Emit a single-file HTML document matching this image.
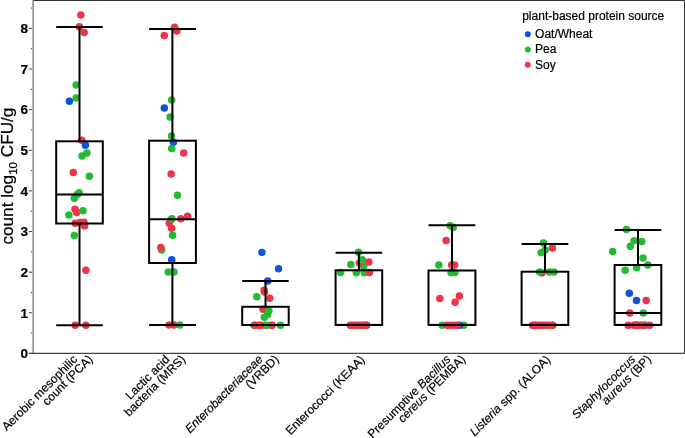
<!DOCTYPE html><html><head><meta charset="utf-8"><style>html,body{margin:0;padding:0;background:#fff;}svg{display:block;will-change:transform;}text{font-family:"Liberation Sans",sans-serif;}</style></head><body>
<svg width="685" height="438" viewBox="0 0 685 438">
<path d="M33 0.5H684.5V353.4" fill="none" stroke="#333" stroke-width="1"/>
<rect x="32" y="0" width="1" height="353.9" fill="#b4b4b4"/><rect x="33" y="0" width="1" height="353.9" fill="#969696"/>
<line x1="28.8" y1="353.4" x2="685" y2="353.4" stroke="#444" stroke-width="1.1"/>
<line x1="28.8" y1="353.40" x2="32" y2="353.40" stroke="#444" stroke-width="1"/>
<line x1="30.8" y1="333.09" x2="32" y2="333.09" stroke="#444" stroke-width="1"/>
<line x1="28.8" y1="312.77" x2="32" y2="312.77" stroke="#444" stroke-width="1"/>
<line x1="30.8" y1="292.46" x2="32" y2="292.46" stroke="#444" stroke-width="1"/>
<line x1="28.8" y1="272.15" x2="32" y2="272.15" stroke="#444" stroke-width="1"/>
<line x1="30.8" y1="251.84" x2="32" y2="251.84" stroke="#444" stroke-width="1"/>
<line x1="28.8" y1="231.52" x2="32" y2="231.52" stroke="#444" stroke-width="1"/>
<line x1="30.8" y1="211.21" x2="32" y2="211.21" stroke="#444" stroke-width="1"/>
<line x1="28.8" y1="190.90" x2="32" y2="190.90" stroke="#444" stroke-width="1"/>
<line x1="30.8" y1="170.59" x2="32" y2="170.59" stroke="#444" stroke-width="1"/>
<line x1="28.8" y1="150.27" x2="32" y2="150.27" stroke="#444" stroke-width="1"/>
<line x1="30.8" y1="129.96" x2="32" y2="129.96" stroke="#444" stroke-width="1"/>
<line x1="28.8" y1="109.65" x2="32" y2="109.65" stroke="#444" stroke-width="1"/>
<line x1="30.8" y1="89.34" x2="32" y2="89.34" stroke="#444" stroke-width="1"/>
<line x1="28.8" y1="69.02" x2="32" y2="69.02" stroke="#444" stroke-width="1"/>
<line x1="30.8" y1="48.71" x2="32" y2="48.71" stroke="#444" stroke-width="1"/>
<line x1="28.8" y1="28.40" x2="32" y2="28.40" stroke="#444" stroke-width="1"/>
<line x1="30.8" y1="8.09" x2="32" y2="8.09" stroke="#444" stroke-width="1"/>
<text x="28" y="358.20" font-size="13.6" font-weight="bold" text-anchor="end" fill="#000" stroke="#000" stroke-width="0.2">0</text>
<text x="28" y="317.57" font-size="13.6" font-weight="bold" text-anchor="end" fill="#000" stroke="#000" stroke-width="0.2">1</text>
<text x="28" y="276.95" font-size="13.6" font-weight="bold" text-anchor="end" fill="#000" stroke="#000" stroke-width="0.2">2</text>
<text x="28" y="236.32" font-size="13.6" font-weight="bold" text-anchor="end" fill="#000" stroke="#000" stroke-width="0.2">3</text>
<text x="28" y="195.70" font-size="13.6" font-weight="bold" text-anchor="end" fill="#000" stroke="#000" stroke-width="0.2">4</text>
<text x="28" y="155.07" font-size="13.6" font-weight="bold" text-anchor="end" fill="#000" stroke="#000" stroke-width="0.2">5</text>
<text x="28" y="114.45" font-size="13.6" font-weight="bold" text-anchor="end" fill="#000" stroke="#000" stroke-width="0.2">6</text>
<text x="28" y="73.82" font-size="13.6" font-weight="bold" text-anchor="end" fill="#000" stroke="#000" stroke-width="0.2">7</text>
<text x="28" y="33.20" font-size="13.6" font-weight="bold" text-anchor="end" fill="#000" stroke="#000" stroke-width="0.2">8</text>
<text transform="translate(12.9,244.6) rotate(-90)" font-size="17.2" fill="#000" stroke="#000" stroke-width="0.25">count log<tspan font-size="11.5" dy="3.8">10</tspan><tspan dy="-3.8"> CFU/g</tspan></text>
<circle cx="80.8" cy="15.0" r="3.75" fill="#ee3448"/>
<circle cx="79.4" cy="26.7" r="3.75" fill="#ee3448"/>
<circle cx="84.2" cy="32.6" r="3.75" fill="#ee3448"/>
<circle cx="76.2" cy="84.9" r="3.75" fill="#22bb33"/>
<circle cx="76.2" cy="97.9" r="3.75" fill="#22bb33"/>
<circle cx="69.4" cy="101.2" r="3.75" fill="#0a55d8"/>
<circle cx="81.7" cy="140.2" r="3.75" fill="#ee3448"/>
<circle cx="85.4" cy="145.2" r="3.75" fill="#0a55d8"/>
<circle cx="86.9" cy="153.1" r="3.75" fill="#22bb33"/>
<circle cx="82" cy="156" r="3.75" fill="#22bb33"/>
<circle cx="73.3" cy="172.5" r="3.75" fill="#ee3448"/>
<circle cx="89.4" cy="176.2" r="3.75" fill="#22bb33"/>
<circle cx="79.1" cy="192.7" r="3.75" fill="#22bb33"/>
<circle cx="77.2" cy="194.5" r="3.75" fill="#22bb33"/>
<circle cx="74.3" cy="198.2" r="3.75" fill="#22bb33"/>
<circle cx="75" cy="209.2" r="3.75" fill="#ee3448"/>
<circle cx="76.7" cy="212.6" r="3.75" fill="#ee3448"/>
<circle cx="83" cy="210.8" r="3.75" fill="#22bb33"/>
<circle cx="68.9" cy="215" r="3.75" fill="#22bb33"/>
<circle cx="75.2" cy="223.2" r="3.75" fill="#ee3448"/>
<circle cx="80.1" cy="222.4" r="3.75" fill="#ee3448"/>
<circle cx="84" cy="222.2" r="3.75" fill="#ee3448"/>
<circle cx="84.6" cy="226" r="3.75" fill="#ee3448"/>
<circle cx="74.3" cy="235.4" r="3.75" fill="#22bb33"/>
<circle cx="85.9" cy="270.3" r="3.75" fill="#ee3448"/>
<circle cx="75.2" cy="325.2" r="3.75" fill="#ee3448"/>
<circle cx="85.9" cy="325.2" r="3.75" fill="#ee3448"/>
<circle cx="174.6" cy="27.2" r="3.75" fill="#ee3448"/>
<circle cx="176.8" cy="31.0" r="3.75" fill="#ee3448"/>
<circle cx="164.3" cy="35.5" r="3.75" fill="#ee3448"/>
<circle cx="171.7" cy="100.1" r="3.75" fill="#22bb33"/>
<circle cx="164.3" cy="107.9" r="3.75" fill="#0a55d8"/>
<circle cx="170.1" cy="117" r="3.75" fill="#22bb33"/>
<circle cx="171.5" cy="136.1" r="3.75" fill="#22bb33"/>
<circle cx="173.4" cy="142.3" r="3.75" fill="#0a55d8"/>
<circle cx="171.7" cy="148.5" r="3.75" fill="#22bb33"/>
<circle cx="183.7" cy="153" r="3.75" fill="#ee3448"/>
<circle cx="171.1" cy="174" r="3.75" fill="#ee3448"/>
<circle cx="177.5" cy="195.3" r="3.75" fill="#22bb33"/>
<circle cx="187.6" cy="216.3" r="3.75" fill="#ee3448"/>
<circle cx="180.8" cy="218.8" r="3.75" fill="#ee3448"/>
<circle cx="171.1" cy="219.5" r="3.75" fill="#ee3448"/>
<circle cx="169.3" cy="223.3" r="3.75" fill="#ee3448"/>
<circle cx="172" cy="218.8" r="3.75" fill="#22bb33"/>
<circle cx="171.6" cy="228.3" r="3.75" fill="#ee3448"/>
<circle cx="172.6" cy="235.3" r="3.75" fill="#22bb33"/>
<circle cx="161.7" cy="250" r="3.75" fill="#22bb33"/>
<circle cx="160.8" cy="247.5" r="3.75" fill="#ee3448"/>
<circle cx="171.7" cy="259.7" r="3.75" fill="#0a55d8"/>
<circle cx="168.2" cy="272.1" r="3.75" fill="#22bb33"/>
<circle cx="174" cy="272.1" r="3.75" fill="#22bb33"/>
<circle cx="169.1" cy="325" r="3.75" fill="#ee3448"/>
<circle cx="174" cy="325" r="3.75" fill="#ee3448"/>
<circle cx="179.8" cy="325" r="3.75" fill="#22bb33"/>
<circle cx="261.9" cy="252.4" r="3.75" fill="#0a55d8"/>
<circle cx="278.5" cy="268.8" r="3.75" fill="#0a55d8"/>
<circle cx="267.7" cy="281.1" r="3.75" fill="#0a55d8"/>
<circle cx="264.2" cy="290.3" r="3.75" fill="#ee3448"/>
<circle cx="264.5" cy="292.0" r="3.75" fill="#ee3448"/>
<circle cx="256.8" cy="296.7" r="3.75" fill="#22bb33"/>
<circle cx="269.7" cy="298.2" r="3.75" fill="#ee3448"/>
<circle cx="263" cy="309.3" r="3.75" fill="#ee3448"/>
<circle cx="268.9" cy="310.8" r="3.75" fill="#22bb33"/>
<circle cx="267.6" cy="314.5" r="3.75" fill="#22bb33"/>
<circle cx="264.3" cy="317.2" r="3.75" fill="#22bb33"/>
<circle cx="254.0" cy="325.2" r="3.75" fill="#22bb33"/>
<circle cx="280.4" cy="325.2" r="3.75" fill="#22bb33"/>
<circle cx="255.2" cy="325.2" r="3.75" fill="#ee3448"/>
<circle cx="258.5" cy="325.2" r="3.75" fill="#ee3448"/>
<circle cx="261" cy="325.2" r="3.75" fill="#ee3448"/>
<circle cx="265" cy="325.2" r="3.75" fill="#ee3448"/>
<circle cx="271.4" cy="325.2" r="3.75" fill="#ee3448"/>
<circle cx="272.3" cy="325.2" r="3.75" fill="#ee3448"/>
<circle cx="266.8" cy="325.2" r="3.75" fill="#22bb33"/>
<circle cx="358.5" cy="252.3" r="3.75" fill="#22bb33"/>
<circle cx="363.7" cy="266.4" r="3.75" fill="#22bb33"/>
<circle cx="359.3" cy="263.1" r="3.75" fill="#ee3448"/>
<circle cx="362.3" cy="259.7" r="3.75" fill="#22bb33"/>
<circle cx="368.9" cy="261.9" r="3.75" fill="#ee3448"/>
<circle cx="350.8" cy="264.5" r="3.75" fill="#22bb33"/>
<circle cx="340.6" cy="272.4" r="3.75" fill="#22bb33"/>
<circle cx="356.3" cy="272.7" r="3.75" fill="#22bb33"/>
<circle cx="364.3" cy="272.7" r="3.75" fill="#22bb33"/>
<circle cx="369.4" cy="272.4" r="3.75" fill="#ee3448"/>
<circle cx="366.5" cy="325.2" r="3.75" fill="#0a55d8"/>
<circle cx="358.1" cy="325.2" r="3.75" fill="#22bb33"/>
<circle cx="350.4" cy="325.2" r="3.75" fill="#ee3448"/>
<circle cx="353" cy="325.2" r="3.75" fill="#ee3448"/>
<circle cx="355.5" cy="325.2" r="3.75" fill="#ee3448"/>
<circle cx="361" cy="325.2" r="3.75" fill="#ee3448"/>
<circle cx="363.5" cy="325.2" r="3.75" fill="#ee3448"/>
<circle cx="366" cy="325.2" r="3.75" fill="#ee3448"/>
<circle cx="450.2" cy="225.7" r="3.75" fill="#22bb33"/>
<circle cx="453.2" cy="227.6" r="3.75" fill="#22bb33"/>
<circle cx="446.1" cy="240.5" r="3.75" fill="#ee3448"/>
<circle cx="438.8" cy="265" r="3.75" fill="#22bb33"/>
<circle cx="451.7" cy="265" r="3.75" fill="#ee3448"/>
<circle cx="454.7" cy="265" r="3.75" fill="#ee3448"/>
<circle cx="451.1" cy="272.4" r="3.75" fill="#22bb33"/>
<circle cx="453" cy="272.4" r="3.75" fill="#22bb33"/>
<circle cx="454.9" cy="272.4" r="3.75" fill="#22bb33"/>
<circle cx="439.8" cy="298.6" r="3.75" fill="#ee3448"/>
<circle cx="459.4" cy="296" r="3.75" fill="#ee3448"/>
<circle cx="455.1" cy="302.3" r="3.75" fill="#ee3448"/>
<circle cx="442.2" cy="325.2" r="3.75" fill="#22bb33"/>
<circle cx="463.8" cy="325.2" r="3.75" fill="#22bb33"/>
<circle cx="459.6" cy="325.2" r="3.75" fill="#0a55d8"/>
<circle cx="447.0" cy="325.2" r="3.75" fill="#ee3448"/>
<circle cx="450.5" cy="325.2" r="3.75" fill="#ee3448"/>
<circle cx="454" cy="325.2" r="3.75" fill="#ee3448"/>
<circle cx="457.2" cy="325.2" r="3.75" fill="#ee3448"/>
<circle cx="543.5" cy="243" r="3.75" fill="#22bb33"/>
<circle cx="552.4" cy="247.9" r="3.75" fill="#ee3448"/>
<circle cx="545.2" cy="249.9" r="3.75" fill="#22bb33"/>
<circle cx="541.1" cy="252.7" r="3.75" fill="#22bb33"/>
<circle cx="541.9" cy="273.0" r="3.75" fill="#ee3448"/>
<circle cx="539.6" cy="272" r="3.75" fill="#22bb33"/>
<circle cx="549.4" cy="272" r="3.75" fill="#22bb33"/>
<circle cx="554" cy="272" r="3.75" fill="#22bb33"/>
<circle cx="534.5" cy="325.2" r="3.75" fill="#0a55d8"/>
<circle cx="545.3" cy="325.2" r="3.75" fill="#22bb33"/>
<circle cx="549.8" cy="325.2" r="3.75" fill="#22bb33"/>
<circle cx="552.9" cy="325.2" r="3.75" fill="#22bb33"/>
<circle cx="532.5" cy="325.2" r="3.75" fill="#ee3448"/>
<circle cx="535" cy="325.2" r="3.75" fill="#ee3448"/>
<circle cx="537.5" cy="325.2" r="3.75" fill="#ee3448"/>
<circle cx="540" cy="325.2" r="3.75" fill="#ee3448"/>
<circle cx="542.5" cy="325.2" r="3.75" fill="#ee3448"/>
<circle cx="547.6" cy="325.2" r="3.75" fill="#ee3448"/>
<circle cx="552.3" cy="325.2" r="3.75" fill="#ee3448"/>
<circle cx="626.4" cy="229.5" r="3.75" fill="#22bb33"/>
<circle cx="634.1" cy="240.7" r="3.75" fill="#22bb33"/>
<circle cx="641.8" cy="241.5" r="3.75" fill="#22bb33"/>
<circle cx="630.3" cy="246.3" r="3.75" fill="#22bb33"/>
<circle cx="612.7" cy="251.4" r="3.75" fill="#22bb33"/>
<circle cx="643" cy="258.1" r="3.75" fill="#22bb33"/>
<circle cx="647.8" cy="265" r="3.75" fill="#22bb33"/>
<circle cx="636.6" cy="267.7" r="3.75" fill="#22bb33"/>
<circle cx="625.2" cy="270.3" r="3.75" fill="#22bb33"/>
<circle cx="629.3" cy="293.3" r="3.75" fill="#0a55d8"/>
<circle cx="636.5" cy="300.5" r="3.75" fill="#0a55d8"/>
<circle cx="646.2" cy="300.5" r="3.75" fill="#ee3448"/>
<circle cx="629.8" cy="313.0" r="3.75" fill="#ee3448"/>
<circle cx="643.3" cy="313.0" r="3.75" fill="#22bb33"/>
<circle cx="645.1" cy="325.2" r="3.75" fill="#0a55d8"/>
<circle cx="636" cy="325.2" r="3.75" fill="#0a55d8"/>
<circle cx="628.2" cy="325.2" r="3.75" fill="#ee3448"/>
<circle cx="634.2" cy="325.2" r="3.75" fill="#ee3448"/>
<circle cx="636.6" cy="325.2" r="3.75" fill="#ee3448"/>
<circle cx="639" cy="325.2" r="3.75" fill="#ee3448"/>
<circle cx="641.4" cy="325.2" r="3.75" fill="#ee3448"/>
<circle cx="643.4" cy="325.2" r="3.75" fill="#ee3448"/>
<circle cx="649.6" cy="325.2" r="3.75" fill="#ee3448"/>
<g stroke="#000" stroke-width="2" fill="none">
<line x1="56.2" y1="27.0" x2="102.8" y2="27.0"/>
<line x1="79.5" y1="27.0" x2="79.5" y2="141.3"/>
<rect x="56.2" y="141.3" width="46.6" height="82.2"/>
<line x1="56.2" y1="194.5" x2="102.8" y2="194.5"/>
<line x1="79.5" y1="223.5" x2="79.5" y2="325.2"/>
<line x1="56.2" y1="325.2" x2="102.8" y2="325.2"/>
</g>
<g stroke="#000" stroke-width="2" fill="none">
<line x1="149.1" y1="28.9" x2="195.9" y2="28.9"/>
<line x1="172.4" y1="28.9" x2="172.4" y2="140.7"/>
<rect x="149.1" y="140.7" width="46.8" height="122.3"/>
<line x1="149.1" y1="219.2" x2="195.9" y2="219.2"/>
<line x1="172.4" y1="263.0" x2="172.4" y2="325.0"/>
<line x1="149.1" y1="325.0" x2="195.9" y2="325.0"/>
</g>
<g stroke="#000" stroke-width="2" fill="none">
<line x1="242.2" y1="281.0" x2="288.7" y2="281.0"/>
<line x1="265.5" y1="281.0" x2="265.5" y2="306.8"/>
<rect x="242.2" y="306.8" width="46.5" height="18.2"/>
<line x1="242.2" y1="325.0" x2="288.7" y2="325.0"/>
<line x1="265.5" y1="325.0" x2="265.5" y2="325.0"/>
<line x1="242.2" y1="325.0" x2="288.7" y2="325.0"/>
</g>
<g stroke="#000" stroke-width="2" fill="none">
<line x1="335.6" y1="252.7" x2="382.2" y2="252.7"/>
<line x1="358.9" y1="252.7" x2="358.9" y2="270.3"/>
<rect x="335.6" y="270.3" width="46.6" height="54.6"/>
<line x1="335.6" y1="324.9" x2="382.2" y2="324.9"/>
<line x1="358.9" y1="324.9" x2="358.9" y2="324.9"/>
<line x1="335.6" y1="324.9" x2="382.2" y2="324.9"/>
</g>
<g stroke="#000" stroke-width="2" fill="none">
<line x1="428.5" y1="225.3" x2="475.4" y2="225.3"/>
<line x1="452.0" y1="225.3" x2="452.0" y2="270.5"/>
<rect x="428.5" y="270.5" width="46.9" height="54.4"/>
<line x1="428.5" y1="324.9" x2="475.4" y2="324.9"/>
<line x1="452.0" y1="324.9" x2="452.0" y2="324.9"/>
<line x1="428.5" y1="324.9" x2="475.4" y2="324.9"/>
</g>
<g stroke="#000" stroke-width="2" fill="none">
<line x1="521.6" y1="244.0" x2="568.3" y2="244.0"/>
<line x1="545.0" y1="244.0" x2="545.0" y2="271.7"/>
<rect x="521.6" y="271.7" width="46.7" height="53.2"/>
<line x1="521.6" y1="324.9" x2="568.3" y2="324.9"/>
<line x1="545.0" y1="324.9" x2="545.0" y2="324.9"/>
<line x1="521.6" y1="324.9" x2="568.3" y2="324.9"/>
</g>
<g stroke="#000" stroke-width="2" fill="none">
<line x1="614.6" y1="230.1" x2="661.3" y2="230.1"/>
<line x1="638.0" y1="230.1" x2="638.0" y2="265.0"/>
<rect x="614.6" y="265.0" width="46.7" height="59.9"/>
<line x1="614.6" y1="313.1" x2="661.3" y2="313.1"/>
<line x1="638.0" y1="324.9" x2="638.0" y2="324.9"/>
<line x1="614.6" y1="324.9" x2="661.3" y2="324.9"/>
</g>
<text x="522.2" y="19.5" font-size="12" fill="#000" stroke="#000" stroke-width="0.2">plant-based protein source</text>
<circle cx="527.8" cy="34.2" r="3" fill="#0a55d8"/>
<text x="535.1" y="37.9" font-size="12" fill="#000" stroke="#000" stroke-width="0.2">Oat/Wheat</text>
<circle cx="527.8" cy="49.5" r="3" fill="#22bb33"/>
<text x="535.1" y="53.2" font-size="12" fill="#000" stroke="#000" stroke-width="0.2">Pea</text>
<circle cx="527.8" cy="64.8" r="3" fill="#ee3448"/>
<text x="535.1" y="68.5" font-size="12" fill="#000" stroke="#000" stroke-width="0.2">Soy</text>
<text transform="translate(78.0,360.1) rotate(-45)" font-size="12" text-anchor="end" fill="#000" stroke="#000" stroke-width="0.2"><tspan>Aerobic mesophilic</tspan></text>
<text transform="translate(93.4,360) rotate(-45)" font-size="12" text-anchor="end" fill="#000" stroke="#000" stroke-width="0.2"><tspan>count (PCA)</tspan></text>
<text transform="translate(170.3,360.1) rotate(-45)" font-size="12" text-anchor="end" fill="#000" stroke="#000" stroke-width="0.2"><tspan>Lactic acid</tspan></text>
<text transform="translate(186,360) rotate(-45)" font-size="12" text-anchor="end" fill="#000" stroke="#000" stroke-width="0.2"><tspan>bacteria (MRS)</tspan></text>
<text transform="translate(263.5,360.1) rotate(-45)" font-size="12" text-anchor="end" fill="#000" stroke="#000" stroke-width="0.2"><tspan font-style="italic">Enterobacteriaceae</tspan></text>
<text transform="translate(279.5,360) rotate(-45)" font-size="12" text-anchor="end" fill="#000" stroke="#000" stroke-width="0.2"><tspan>(VRBD)</tspan></text>
<text transform="translate(365.4,360.4) rotate(-45)" font-size="12" text-anchor="end" fill="#000" stroke="#000" stroke-width="0.2"><tspan>Enterococci (KEAA)</tspan></text>
<text transform="translate(451.3,360.1) rotate(-45)" font-size="12" text-anchor="end" fill="#000" stroke="#000" stroke-width="0.2"><tspan>Presumptive </tspan><tspan font-style="italic">Bacillus</tspan></text>
<text transform="translate(466,360) rotate(-45)" font-size="12" text-anchor="end" fill="#000" stroke="#000" stroke-width="0.2"><tspan font-style="italic">cereus</tspan><tspan> (PEMBA)</tspan></text>
<text transform="translate(551.1,360.3) rotate(-45)" font-size="12" text-anchor="end" fill="#000" stroke="#000" stroke-width="0.2"><tspan font-style="italic">Listeria</tspan><tspan> spp. (ALOA)</tspan></text>
<text transform="translate(636.1,360.1) rotate(-45)" font-size="12" text-anchor="end" fill="#000" stroke="#000" stroke-width="0.2"><tspan font-style="italic">Staphylococcus</tspan></text>
<text transform="translate(651.8,360) rotate(-45)" font-size="12" text-anchor="end" fill="#000" stroke="#000" stroke-width="0.2"><tspan font-style="italic">aureus</tspan><tspan> (BP)</tspan></text>
</svg></body></html>
